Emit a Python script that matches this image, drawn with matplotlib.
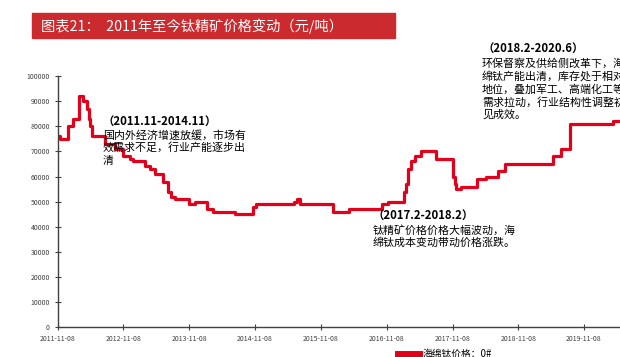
import matplotlib.pyplot as plt
import matplotlib.dates as mdates
import pandas as pd
from matplotlib.patches import Rectangle

plt.rcParams['font.family'] = ['Noto Sans CJK SC', 'DejaVu Sans']

# step points (date where each price level starts)
dates = ['2011-11-08', '2011-11-22', '2012-01-07', '2012-02-04', '2012-03-05', '2012-03-27',
         '2012-04-21', '2012-05-01', '2012-05-09', '2012-05-19', '2012-07-30', '2012-09-22',
         '2012-11-08', '2012-12-15', '2013-01-02', '2013-03-08', '2013-04-05', '2013-05-02',
         '2013-06-17', '2013-07-14', '2013-08-01', '2013-08-23', '2013-11-04', '2013-12-12',
         '2014-02-16', '2014-03-20', '2014-07-20', '2014-10-27', '2014-11-14', '2015-06-15',
         '2015-06-28', '2015-07-15', '2016-01-13', '2016-04-10', '2016-10-10', '2016-11-15',
         '2017-02-13', '2017-02-24', '2017-03-06', '2017-03-25', '2017-04-12', '2017-05-16',
         '2017-08-08', '2017-11-11', '2017-11-22', '2017-11-29', '2017-12-25', '2018-03-26',
         '2018-05-13', '2018-07-19', '2018-08-26', '2019-05-19', '2019-07-02', '2019-08-22',
         '2020-04-17', '2020-06-30']
prices = [76000, 75000, 80000, 83000, 92000, 90000,
          87000, 83000, 80000, 76000, 73000, 71000,
          68000, 67000, 66000, 64000, 63000, 61000,
          58000, 54000, 52000, 51000, 49000, 50000,
          47000, 46000, 45000, 48000, 49000, 50000,
          51000, 49000, 46000, 47000, 49000, 50000,
          54000, 57000, 63000, 66000, 68000, 70000,
          67000, 60000, 57000, 55000, 56000, 59000,
          60000, 62000, 65000, 68000, 71000, 81000,
          82000, 82000]
tick_dates = ['2011-11-08', '2012-11-08', '2013-11-08', '2014-11-08', '2015-11-08',
              '2016-11-08', '2017-11-08', '2018-11-08', '2019-11-08', '2020-11-08']
yticks = [0, 10000, 20000, 30000, 40000, 50000, 60000, 70000, 80000, 90000, 100000]

title = '图表21：  2011年至今钛精矿价格变动（元/吨）'
note1_head = '（2011.11-2014.11）'
note1 = ['国内外经济增速放缓，市场有', '效需求不足，行业产能逐步出', '清']
note2_head = '（2017.2-2018.2）'
note2 = ['钛精矿价格价格大幅波动，海', '绵钛成本变动带动价格涨跌。']
note3_head = '（2018.2-2020.6）'
note3 = ['环保督察及供给侧改革下，海', '绵钛产能出清，库存处于相对', '地位，叠加军工、高端化工等',
         '需求拉动，行业结构性调整初', '见成效。']
legend_label = '海绵钛价格：0#'

W, H = 620, 357
fig = plt.figure(figsize=(W / 100, H / 100), dpi=100)

# axes runs past the right edge of the slide, like the screenshot
ax = fig.add_axes([57.5 / W, 29.7 / H, (650 - 57.5) / W, 251.3 / H])
x = pd.to_datetime(dates)
ax.plot(x, prices, drawstyle='steps-post', color='#E2001A', lw=2.3, label=legend_label)
ax.set_xlim(pd.Timestamp('2011-11-08'), pd.Timestamp('2020-11-08'))
ax.set_ylim(0, 100000)
ax.set_xticks(pd.to_datetime(tick_dates))
ax.xaxis.set_major_formatter(mdates.DateFormatter('%Y-%m-%d'))
ax.set_yticks(yticks)
ax.tick_params(labelsize=5, colors='#404040', direction='inout', length=4, width=0.8)
for s in ['top', 'right']:
    ax.spines[s].set_visible(False)
for s in ['left', 'bottom']:
    ax.spines[s].set_color('#404040')
    ax.spines[s].set_linewidth(1)
ax.patch.set_alpha(0)

# title bar
fig.patches.append(Rectangle((32 / W, 1 - 38.3 / H), 363 / W, 25 / H,
                             transform=fig.transFigure, color='#CB2A2E', zorder=0))
fig.text(41 / W, 1 - 26 / H, title, color='white', fontsize=10.3, va='center', ha='left')


def note(x0, y_head, head, lines, y0, step=12.9):
    fig.text(x0, 1 - y_head / H, head, fontsize=8.2, fontweight='bold', va='center', ha='left')
    for i, t in enumerate(lines):
        fig.text(x0, 1 - (y0 + i * step) / H, t, fontsize=7.9, va='center', ha='left')


note(103 / W, 121.5, note1_head, note1, 135)
note(373 / W, 215.5, note2_head, note2, 230)
note(482 / W, 48.3, note3_head, note3, 63.3)

# legend sits at the bottom edge, partly cut off like the screenshot
fig.legend(loc='upper left', bbox_to_anchor=(398 / W, 8 / H), frameon=False, fontsize=7,
           handlelength=2.2, handletextpad=0.3, borderaxespad=0, borderpad=0)
leg = fig.legends[0]
for h in leg.get_lines():
    h.set_linewidth(5)

fig.savefig('out.png', dpi=100)
